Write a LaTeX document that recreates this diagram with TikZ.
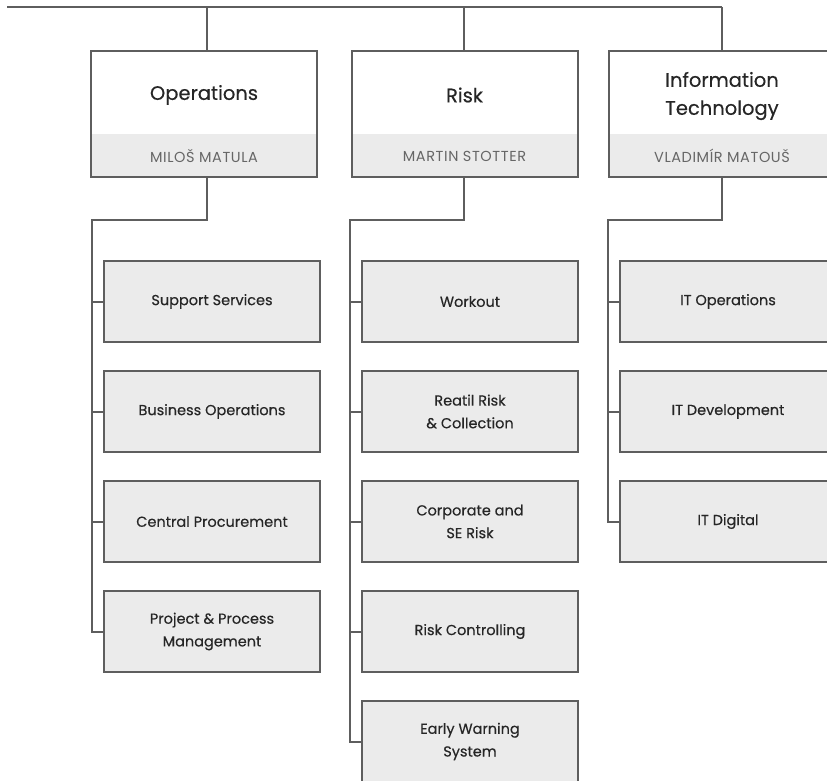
\documentclass[tikz,border=0pt]{standalone}
\usepackage{fontspec}
\setmainfont{Poppins}
\newfontfamily\boxfont{Poppins}[FakeBold=0.35]
\newfontfamily\namefont{Poppins}[LetterSpace=4]
\usetikzlibrary{calc}
\definecolor{ln}{HTML}{5E5E5E}
\definecolor{bx}{HTML}{EBEBEB}
\definecolor{tx}{HTML}{262626}
\definecolor{nm}{HTML}{666666}
\begin{document}
\begin{tikzpicture}[x=1pt,y=-1pt,
  conn/.style={draw=ln, line width=2pt},
  headbox/.style={draw=ln, line width=2pt, fill=none, minimum width=226pt, minimum height=126pt, inner sep=0pt},
  band/.style={fill=bx, minimum width=226pt, minimum height=44pt, inner sep=0pt, text=nm, font=\namefont\fontsize{14.5}{16}\selectfont},
  title/.style={text=tx, align=center, font=\boxfont\fontsize{19.5}{28}\selectfont, inner sep=0pt},
  child/.style={draw=ln, line width=2pt, fill=bx, minimum width=216pt, minimum height=81pt, inner sep=0pt, text=tx, align=center, font=\boxfont\fontsize{14.5}{22.7}\selectfont}
]
\useasboundingbox (0,0) rectangle (827,781);
\clip (0,0) rectangle (827,781);
\fill[white] (0,0) rectangle (827,781);

% head boxes
\node[band] (opsb) at (204,156) {MILOŠ MATULA};
\node[headbox] (ops) at (204,114) {};
\node[title] (opst) at (204,95) {Operations};

\node[band] (riskb) at (464.5,156) {MARTIN STOTTER};
\node[headbox] (risk) at (464.5,114) {};
\node[title] (riskt) at (464.5,95) {Risk};

\node[band] (itb) at (722,156) {VLADIMÍR MATOUŠ};
\node[headbox] (it) at (722,114) {};
\node[title] (itt) at (722,96) {Information\\Technology};

% top connector
\coordinate (top0) at (7,7);
\coordinate (topA) at (207,7);
\coordinate (topB) at (464,7);
\coordinate (topC) at (722,7);
\draw[conn] (top0) -- (topC);
\draw[conn] (topA) -- (topA |- ops.north);
\draw[conn] (topB) -- (topB |- risk.north);
\draw[conn] (topC) -- (topC |- it.north);

% children
\node[child] (o1) at (212,301.5) {Support Services};
\node[child] (o2) at (212,411.5) {Business Operations};
\node[child] (o3) at (212,521.5) {Central Procurement};
\node[child] (o4) at (212,631.5) {Project \& Process\\Management};

\node[child] (r1) at (470,301.5) {Workout};
\node[child] (r2) at (470,411.5) {Reatil Risk\\\& Collection};
\node[child] (r3) at (470,521.5) {Corporate and\\SE Risk};
\node[child] (r4) at (470,631.5) {Risk Controlling};
\node[child] (r5) at (470,741.5) {Early Warning\\System};

\node[child] (i1) at (728,301.5) {IT Operations};
\node[child] (i2) at (728,411.5) {IT Development};
\node[child] (i3) at (728,521.5) {IT Digital};

% column connectors
\coordinate (oa) at (207,177);
\coordinate (ob) at (207,220);
\coordinate (oc) at (92,220);
\draw[conn] (oa) -- (ob) -- (oc) |- (o4.west);
\foreach \n in {o1,o2,o3} \draw[conn] (oc |- \n.west) -- (\n.west);

\coordinate (ra) at (464,177);
\coordinate (rb) at (464,220);
\coordinate (rc) at (350,220);
\draw[conn] (ra) -- (rb) -- (rc) |- (r5.west);
\foreach \n in {r1,r2,r3,r4} \draw[conn] (rc |- \n.west) -- (\n.west);

\coordinate (ia) at (722,177);
\coordinate (ib) at (722,220);
\coordinate (ic) at (608,220);
\draw[conn] (ia) -- (ib) -- (ic) |- (i3.west);
\foreach \n in {i1,i2} \draw[conn] (ic |- \n.west) -- (\n.west);
\end{tikzpicture}
\end{document}
